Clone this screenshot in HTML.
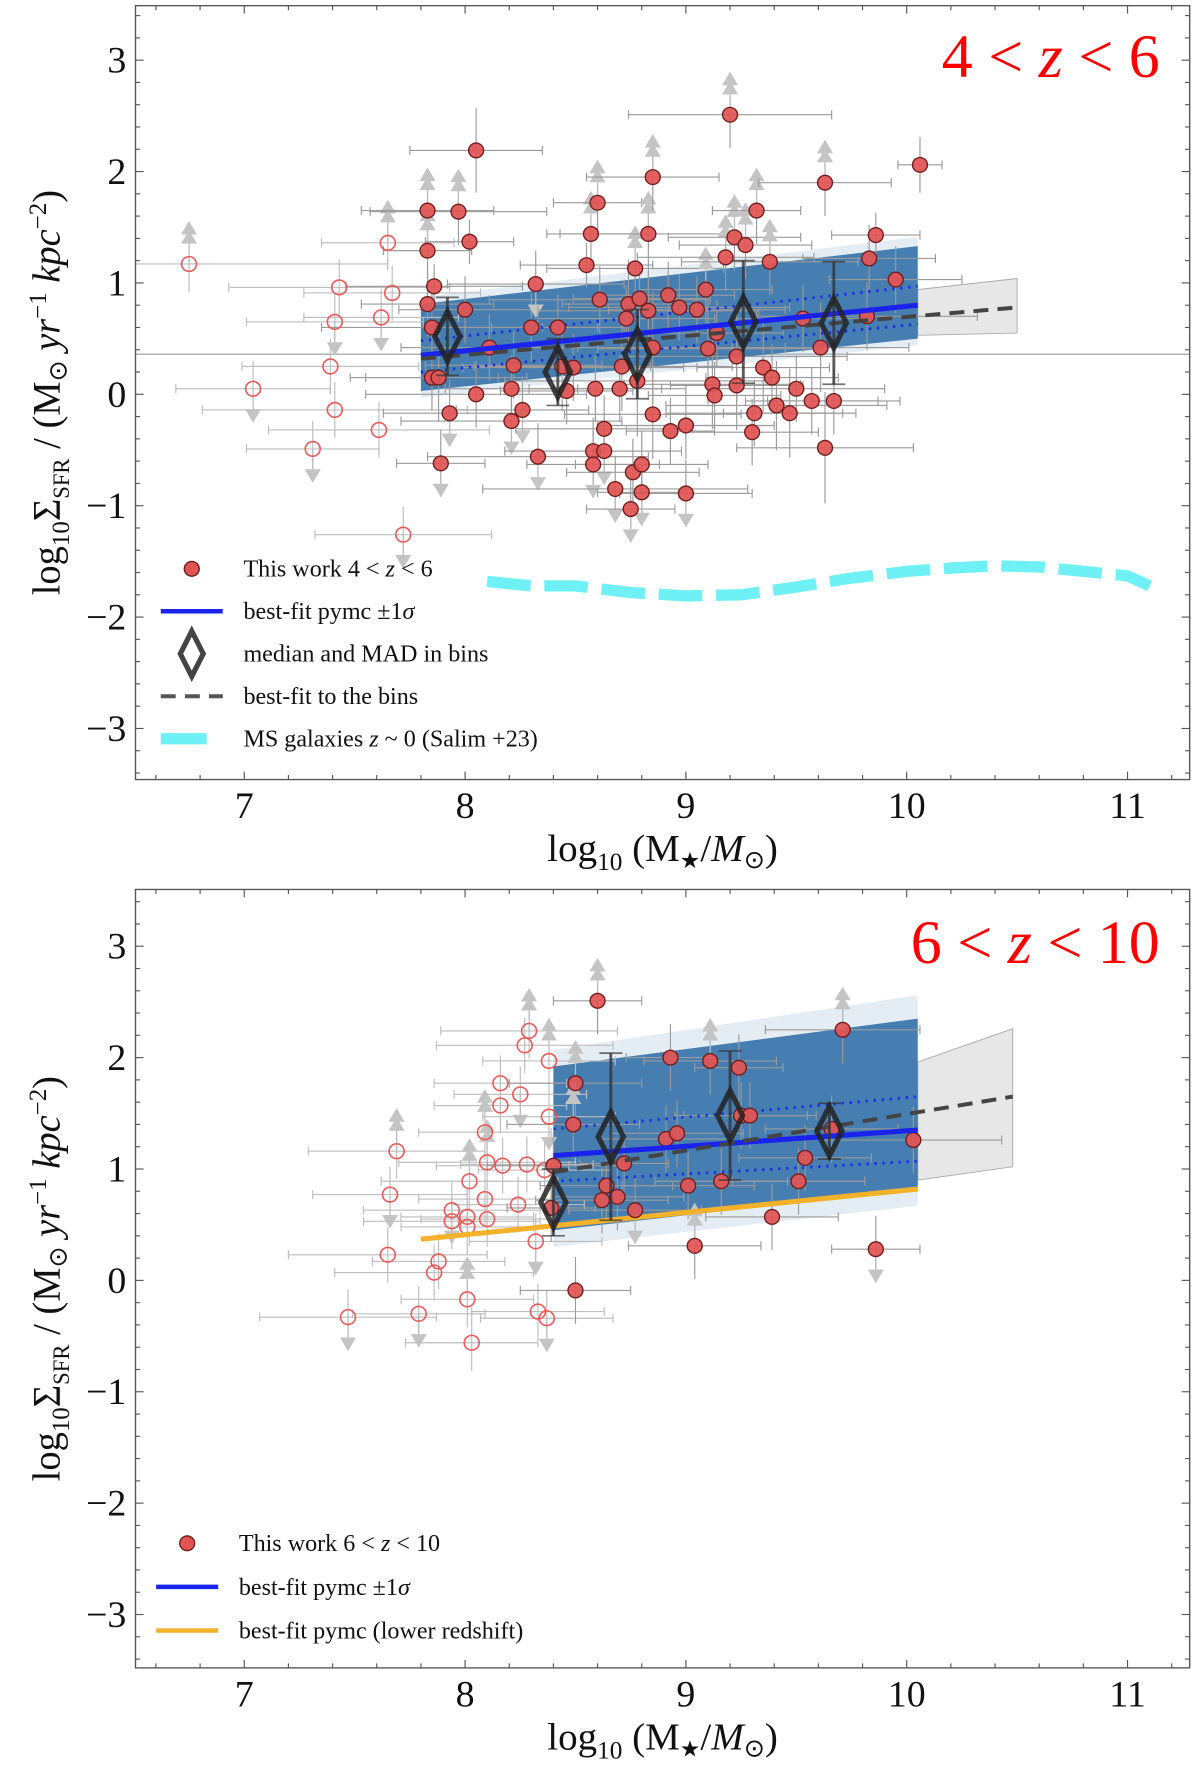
<!DOCTYPE html>
<html><head><meta charset="utf-8"><style>
html,body{margin:0;padding:0;background:#fff}
svg{display:block}
text{font-family:"Liberation Serif",serif}
</style></head><body>
<svg id="fig" width="1200" height="1771" viewBox="0 0 1045 1563" preserveAspectRatio="none" xmlns="http://www.w3.org/2000/svg">
<rect width="1045" height="1563" fill="#fff"/>
<g id="top"></g>
<g id="bot"></g>
</svg>
<script>
// ---- top panel data (4<z<6) ----
const topFilledX=[7.83,7.83,7.86,7.83,7.85,7.85,7.88,7.89,7.93,7.97,8.0,8.02,8.05,8.05,8.11,8.21,8.21,8.22,8.26,8.30,8.32,8.33,8.42,8.44,8.46,8.49,8.55,8.57,8.58,8.58,8.59,8.60,8.61,8.63,8.63,8.68,8.70,8.71,8.73,8.74,8.75,8.76,8.77,8.78,8.79,8.80,8.80,8.83,8.83,8.85,8.85,8.85,8.92,8.93,8.97,9.0,9.0,9.05,9.09,9.10,9.12,9.13,9.14,9.18,9.20,9.22,9.23,9.23,9.27,9.30,9.31,9.32,9.35,9.38,9.39,9.41,9.47,9.50,9.53,9.57,9.61,9.63,9.63,9.67,9.82,9.83,9.86,9.95,10.06];
const topFilledY=[1.65,1.29,0.97,0.81,0.60,0.15,0.15,-0.62,-0.17,1.64,0.76,1.37,0.0,2.19,0.42,0.05,-0.24,0.26,-0.14,0.60,0.99,-0.56,0.60,0.25,0.03,0.24,1.16,1.44,-0.51,-0.63,0.05,1.72,0.85,-0.31,-0.51,-0.85,0.05,0.25,0.68,0.81,-1.03,-0.70,1.13,0.12,0.86,-0.63,-0.88,1.44,0.75,1.95,0.42,-0.18,0.89,-0.33,0.78,-0.89,-0.28,0.76,0.94,0.41,0.09,-0.01,0.55,1.23,2.51,1.41,0.08,0.34,1.34,-0.34,-0.17,1.65,0.24,1.19,0.15,-0.10,-0.17,0.05,0.68,-0.06,0.42,1.90,-0.48,-0.06,0.70,1.22,1.43,1.03,2.06];
const topFilledXerr=[0.3,0.2,0.4,0.3,0.5,0.3,0.4,0.2,0.3,0.4,0.3,0.2,0.5,0.3,0.4,0.3,0.5,0.4,0.3,0.3,0.4,0.5,0.3,0.4,0.3,0.5,0.3,0.2,0.4,0.3,0.3,0.2,0.5,0.4,0.3,0.6,0.3,0.5,0.4,0.3,0.2,0.3,0.4,0.6,0.3,0.3,0.2,0.4,0.5,0.3,0.6,0.4,0.3,0.2,0.5,0.3,0.4,0.4,0.3,0.5,0.4,0.3,0.3,0.4,0.46,0.3,0.3,0.5,0.3,0.3,0.4,0.2,0.3,0.4,0.3,0.5,0.3,0.4,0.3,0.3,0.4,0.3,0.4,0.3,0.5,0.3,0.2,0.3,0.1];
const topFilledYerr=[0.3,0.3,0.2,0.3,0.3,0.3,0.4,0.3,0.3,0.3,0.3,0.2,0.3,0.38,0.3,0.3,0.2,0.3,0.3,0.3,0.3,0.3,0.3,0.4,0.3,0.3,0.2,0.3,0.3,0.3,0.3,0.3,0.3,0.3,0.3,0.3,0.3,0.4,0.3,0.4,0.3,0.3,0.3,0.5,0.3,0.3,0.3,0.3,0.4,0.3,0.5,0.4,0.3,0.3,0.3,0.3,0.3,0.3,0.3,0.5,0.4,0.3,0.3,0.3,0.3,0.3,0.4,0.4,0.3,0.3,0.3,0.3,0.4,0.3,0.3,0.4,0.4,0.3,0.3,0.3,0.4,0.3,0.5,0.3,0.3,0.3,0.2,0.3,0.25];
const topFilledLim=[1,1,0,0,0,0,0,-1,-1,1,0,0,0,0,0,0,-1,0,-1,0,-1,-1,0,-1,0,0,0,1,0,-1,0,1,0,0,-1,-1,0,0,0,0,-1,0,1,0,0,0,-1,1,0,1,0,0,0,0,0,-1,0,0,1,0,0,0,0,1,1,1,0,0,1,0,0,1,0,1,0,0,0,0,0,0,0,1,0,0,0,0,0,0,0];
const topOpenX=[6.75,7.04,7.31,7.39,7.41,7.41,7.43,7.61,7.62,7.65,7.67,7.72];
const topOpenY=[1.17,0.05,-0.49,0.25,-0.14,0.65,0.96,-0.32,0.69,1.36,0.91,-1.26];
const topOpenXerr=[0.9,0.35,0.3,0.4,0.6,0.4,0.5,0.5,0.35,0.3,0.4,0.4];
const topOpenLim=[1,-1,-1,0,0,-1,0,0,-1,1,0,-1];
const topBinX=[7.92,8.42,8.78,9.26,9.67];
const topBinY=[0.52,0.20,0.36,0.65,0.64];
const topBinErr=[0.35,0.3,0.4,0.55,0.55];
const topFitX=[7.8,10.05];
const topFitY=[0.35,0.80];
const topFitUp=[0.48,0.97];
const topFitLo=[0.20,0.63];
const topBandHi=[0.81,1.33];
const topBandLo=[0.03,0.50];
const topBinFitX=[7.8,10.5];
const topBinFitY=[0.32,0.78];
const topShadeX=[10.05,10.5];
const topShadeHi=[0.94,1.04];
const topShadeLo=[0.53,0.55];
const salimX=[8.1,8.3,8.5,8.75,9.0,9.25,9.5,9.75,10.0,10.2,10.4,10.6,10.8,11.0,11.1];
const salimY=[-1.68,-1.72,-1.72,-1.78,-1.81,-1.80,-1.73,-1.65,-1.59,-1.56,-1.54,-1.55,-1.59,-1.63,-1.72];
// ---- bottom panel data (6<z<10) ----
const botFilledX=[8.60,8.50,8.49,8.40,8.39,8.64,8.62,8.69,8.72,8.77,8.91,8.96,8.93,9.11,9.24,9.25,9.29,9.01,9.16,9.04,9.39,9.51,9.54,9.66,9.71,9.86,10.03,8.50];
const botFilledY=[2.51,1.77,1.40,1.03,0.65,0.85,0.72,0.75,1.05,0.63,1.27,1.32,2.0,1.97,1.91,1.48,1.48,0.85,0.89,0.31,0.57,0.89,1.10,1.36,2.25,0.28,1.26,-0.09];
const botFilledXerr=[0.2,0.3,0.3,0.3,0.2,0.3,0.3,0.3,0.2,0.3,0.3,0.3,0.2,0.3,0.2,0.3,0.3,0.3,0.3,0.3,0.3,0.3,0.3,0.3,0.35,0.2,0.4,0.25];
const botFilledLim=[1,1,1,0,0,0,0,0,0,-1,0,0,0,1,0,0,0,0,0,1,0,0,0,0,1,-1,0,0];
const botOpenX=[7.47,7.65,7.69,7.66,7.79,7.86,7.88,7.94,7.94,8.01,8.01,8.01,8.03,8.02,8.09,8.10,8.09,8.10,8.16,8.16,8.17,8.25,8.24,8.27,8.29,8.28,8.36,8.38,8.38,8.32,8.33,8.37];
const botOpenY=[-0.33,0.23,1.16,0.77,-0.30,0.07,0.17,0.63,0.53,0.57,0.48,-0.17,-0.56,0.89,0.73,0.55,1.33,1.06,1.57,1.77,1.03,1.67,0.68,2.11,2.24,1.04,0.99,1.97,1.47,0.35,-0.28,-0.34];
const botOpenXerr=[0.4,0.45,0.4,0.35,0.3,0.45,0.3,0.4,0.4,0.3,0.3,0.3,0.3,0.4,0.3,0.3,0.3,0.4,0.3,0.3,0.3,0.3,0.3,0.4,0.4,0.3,0.3,0.3,0.3,0.3,0.3,0.3];
const botOpenLim=[-1,0,1,-1,-1,0,0,-1,0,0,0,1,0,1,0,0,1,1,0,0,0,-1,0,0,1,0,0,1,-1,-1,0,-1];
const botBinX=[8.40,8.66,9.20,9.65];
const botBinY=[0.70,1.29,1.48,1.34];
const botBinErr=[0.3,0.75,0.58,0.25];
const botFitX=[8.4,10.05];
const botFitY=[1.12,1.35];
const botFitUp=[1.36,1.65];
const botFitLo=[0.89,1.07];
const botBandHi=[1.92,2.35];
const botBandLo=[0.45,0.82];
const botBinFitX=[8.4,10.48];
const botBinFitY=[0.97,1.65];
const botShadeX=[10.05,10.48];
const botShadeHi=[1.96,2.26];
const botShadeLo=[0.90,1.02];
const lowzFitX=[7.8,10.05];
const lowzFitY=[0.37,0.82];
const xTicks=[7,8,9,10,11];
const yTicks=[3,2,1,0,-1,-2,-3];

const NS="http://www.w3.org/2000/svg";
function mk(p,tag,attrs){const e=document.createElementNS(NS,tag);for(const k in attrs)e.setAttribute(k,attrs[k]);p.appendChild(e);return e;}
const X=v=>405+(v-8)*192.3;

function drawPanel(g,cfg){
  const Y=v=>cfg.y0-v*98.3;
  const L=118,R=1036,T=cfg.top,B=cfg.bottom;
  const cid='clip'+cfg.id;
  const defs=mk(g,'defs',{});
  const cp=mk(defs,'clipPath',{id:cid});mk(cp,'rect',{x:L,y:T,width:R-L,height:B-T});
  const pg=mk(g,'g',{'clip-path':'url(#'+cid+')'});
  if(cfg.hline!==undefined){const l=mk(pg,'line',{x1:L,x2:R,y1:Y(cfg.hline),y2:Y(cfg.hline),stroke:'#999','stroke-width':1});
    }
  const sh=mk(pg,'polygon',{points:`${X(cfg.shadeX[0])},${Y(cfg.shadeHi[0])} ${X(cfg.shadeX[1])},${Y(cfg.shadeHi[1])} ${X(cfg.shadeX[1])},${Y(cfg.shadeLo[1])} ${X(cfg.shadeX[0])},${Y(cfg.shadeLo[0])}`,fill:'#bbb','fill-opacity':0.35,stroke:'#aaa','stroke-width':0.8});
  
  const fx0=X(cfg.fitX[0]),fx1=X(cfg.fitX[1]);
  const fz=mk(pg,'polygon',{points:`${fx0},${Y(cfg.bandHi[0]+cfg.fuzz)} ${fx1},${Y(cfg.bandHi[1]+cfg.fuzz*1.4)} ${fx1},${Y(cfg.bandLo[1]-cfg.fuzz)} ${fx0},${Y(cfg.bandLo[0]-cfg.fuzz)}`,fill:'#a9c3da','fill-opacity':0.3});
  
  const bd=mk(pg,'polygon',{points:`${fx0},${Y(cfg.bandHi[0])} ${fx1},${Y(cfg.bandHi[1])} ${fx1},${Y(cfg.bandLo[1])} ${fx0},${Y(cfg.bandLo[0])}`,fill:'#3874aa','fill-opacity':0.92});
  
  const ebar=(x,y,xe,ye,lim,col)=>{
    mk(pg,'line',{x1:X(x-xe),x2:X(x+xe),y1:Y(y),y2:Y(y),stroke:col,'stroke-width':1});
    mk(pg,'line',{x1:X(x-xe),x2:X(x-xe),y1:Y(y)-4,y2:Y(y)+4,stroke:col,'stroke-width':1});
    mk(pg,'line',{x1:X(x+xe),x2:X(x+xe),y1:Y(y)-4,y2:Y(y)+4,stroke:col,'stroke-width':1});
    mk(pg,'line',{x1:X(x),x2:X(x),y1:Y(y+ye),y2:Y(y-ye),stroke:col,'stroke-width':1});
    if(lim){const ax=X(x),ay=Y(y)-lim*18;
      const tip=ay-lim*12;
      mk(pg,'line',{x1:ax,x2:ax,y1:Y(y),y2:ay,stroke:'#bbb','stroke-width':1});
      const a=mk(pg,'polygon',{points:`${ax-7},${ay} ${ax+7},${ay} ${ax},${tip}`,fill:'#c4c4c4'});
      
      if(lim>0){const a2=mk(pg,'polygon',{points:`${ax-7},${ay-8} ${ax+7},${ay-8} ${ax},${tip-8}`,fill:'#c4c4c4'});
        }
    }
  };
  cfg.openX.forEach((x,i)=>ebar(x,cfg.openY[i],cfg.openXerr[i],0.25,cfg.openLim[i],'#bdbdbd'));
  cfg.filledX.forEach((x,i)=>ebar(x,cfg.filledY[i],cfg.filledXerr[i],cfg.filledYerr?cfg.filledYerr[i]:0.3,cfg.filledLim[i],'#9a9a9a'));
  cfg.openX.forEach((x,i)=>{const c=mk(pg,'circle',{cx:X(x),cy:Y(cfg.openY[i]),r:6.5,fill:'none',stroke:'#e85a5a','stroke-width':1.4});
    });
  const line=(xs,ys,attrs,name)=>{const l=mk(pg,'line',Object.assign({x1:X(xs[0]),y1:Y(ys[0]),x2:X(xs[1]),y2:Y(ys[1])},attrs));
    };
  line(cfg.fitX,cfg.fitUp,{stroke:'#1a2cf0','stroke-width':2.5,'stroke-dasharray':'2 5'},'fit-upper-1sigma');
  line(cfg.fitX,cfg.fitLo,{stroke:'#1a2cf0','stroke-width':2.5,'stroke-dasharray':'2 5'},'fit-lower-1sigma');
  if(cfg.lowzX) line(cfg.lowzX,cfg.lowzY,{stroke:'#f4b12a','stroke-width':4.5},'lower-redshift-fit');
  cfg.filledX.forEach((x,i)=>{const c=mk(pg,'circle',{cx:X(x),cy:Y(cfg.filledY[i]),r:6.5,fill:'#e25454','fill-opacity':0.92,stroke:'#6e1c1c','stroke-width':1.2});
    });
  line(cfg.fitX,cfg.fitY,{stroke:'#1a22ee','stroke-width':4.5},'best-fit-line');
  line(cfg.binFitX,cfg.binFitY,{stroke:'#444','stroke-width':3.5,'stroke-dasharray':'13 8'},'bin-fit-line');
  cfg.binX.forEach((x,i)=>{const cx=X(x),cy=Y(cfg.binY[i]);
    mk(pg,'line',{x1:cx,x2:cx,y1:Y(cfg.binY[i]+cfg.binErr[i]),y2:Y(cfg.binY[i]-cfg.binErr[i]),stroke:'#333','stroke-width':2.5,'stroke-opacity':0.8});
    mk(pg,'line',{x1:cx-10,x2:cx+10,y1:Y(cfg.binY[i]+cfg.binErr[i]),y2:Y(cfg.binY[i]+cfg.binErr[i]),stroke:'#333','stroke-width':1.5,'stroke-opacity':0.7});
    mk(pg,'line',{x1:cx-10,x2:cx+10,y1:Y(cfg.binY[i]-cfg.binErr[i]),y2:Y(cfg.binY[i]-cfg.binErr[i]),stroke:'#333','stroke-width':1.5,'stroke-opacity':0.7});
    const d=mk(pg,'polygon',{points:`${cx},${cy-22} ${cx+11},${cy} ${cx},${cy+22} ${cx-11},${cy}`,fill:'none',stroke:'#222','stroke-width':4.5,'stroke-opacity':0.85});
    });
  if(cfg.salimX){const p=mk(pg,'polyline',{points:cfg.salimX.map((x,i)=>X(x)+','+Y(cfg.salimY[i])).join(' '),fill:'none',stroke:'#6ff0f5','stroke-width':10,'stroke-dasharray':'38 12'});
    }
  const fr=mk(g,'rect',{x:L,y:T,width:R-L,height:B-T,fill:'none',stroke:'#555','stroke-width':1.2});
  
  for(let v=6.6;v<11.3;v+=0.2){const x=X(v);const maj=Math.abs(v-Math.round(v))<0.01;const len=maj?7:4;
    mk(g,'line',{x1:x,x2:x,y1:B,y2:B-len,stroke:'#555','stroke-width':1});mk(g,'line',{x1:x,x2:x,y1:T,y2:T+len,stroke:'#555','stroke-width':1});}
  for(let v=-3.4;v<3.5;v+=0.2){const y=Y(v);if(y<T||y>B)continue;const maj=Math.abs(v-Math.round(v))<0.01;const len=maj?7:4;
    mk(g,'line',{x1:L,x2:L+len,y1:y,y2:y,stroke:'#555','stroke-width':1});mk(g,'line',{x1:R,x2:R-len,y1:y,y2:y,stroke:'#555','stroke-width':1});}
  xTicks.forEach(v=>{const t=mk(g,'text',{x:X(v),y:B+34,'font-size':33,'text-anchor':'middle',fill:'#111'});t.textContent=v;
    });
  yTicks.forEach(v=>{const t=mk(g,'text',{x:110,y:Y(v)+11,'font-size':33,'text-anchor':'end',fill:'#111'});t.textContent=v<0?'\u2212'+(-v):v;
    });
  const xt=mk(g,'text',{x:577,y:B+72,'font-size':34,'text-anchor':'middle',fill:'#111'});
  xt.innerHTML='log<tspan font-size="22" dy="8">10</tspan><tspan dy="-8"> (M</tspan><tspan font-size="20" dy="6">\u2605</tspan><tspan dy="-6">/</tspan><tspan font-style="italic">M</tspan><tspan font-size="22" dy="6">\u2299</tspan><tspan dy="-6">)</tspan>';
  
  const cy=(T+B)/2;
  const yt=mk(g,'text',{x:0,y:0,'font-size':34,'text-anchor':'middle',fill:'#111',transform:`translate(52,${cy}) rotate(-90)`});
  yt.innerHTML='log<tspan font-size="22" dy="8">10</tspan><tspan dy="-8">\u03A3</tspan><tspan font-size="20" dy="8">SFR</tspan><tspan dy="-8"> / (M</tspan><tspan font-size="22" dy="6">\u2299</tspan><tspan dy="-6"> </tspan><tspan font-style="italic">yr</tspan><tspan font-size="22" dy="-12">\u22121</tspan><tspan dy="12" font-style="italic"> kpc</tspan><tspan font-size="22" dy="-12">\u22122</tspan><tspan dy="12">)</tspan>';
  
  const rt=mk(g,'text',{x:1010,y:cfg.titleY,'font-size':54,'text-anchor':'end',fill:'#ff0000'});
  rt.innerHTML=cfg.title;
  
}

drawPanel(document.getElementById('top'),{id:'t',y0:348,top:5,bottom:688,hline:0.36,
  shadeX:topShadeX,shadeHi:topShadeHi,shadeLo:topShadeLo,fitX:topFitX,fitY:topFitY,fitUp:topFitUp,fitLo:topFitLo,
  bandHi:topBandHi,bandLo:topBandLo,fuzz:0.06,binFitX:topBinFitX,binFitY:topBinFitY,
  filledX:topFilledX,filledY:topFilledY,filledXerr:topFilledXerr,filledYerr:topFilledYerr,filledLim:topFilledLim,
  openX:topOpenX,openY:topOpenY,openXerr:topOpenXerr,openLim:topOpenLim,
  binX:topBinX,binY:topBinY,binErr:topBinErr,salimX:salimX,salimY:salimY,
  title:'4 &lt; <tspan font-style="italic">z</tspan> &lt; 6',titleY:68});
drawPanel(document.getElementById('bot'),{id:'b',y0:1130,top:785,bottom:1472,
  shadeX:botShadeX,shadeHi:botShadeHi,shadeLo:botShadeLo,fitX:botFitX,fitY:botFitY,fitUp:botFitUp,fitLo:botFitLo,
  bandHi:botBandHi,bandLo:botBandLo,fuzz:0.15,binFitX:botBinFitX,binFitY:botBinFitY,
  filledX:botFilledX,filledY:botFilledY,filledXerr:botFilledXerr,filledYerr:null,filledLim:botFilledLim,
  openX:botOpenX,openY:botOpenY,openXerr:botOpenXerr,openLim:botOpenLim,
  binX:botBinX,binY:botBinY,binErr:botBinErr,lowzX:lowzFitX,lowzY:lowzFitY,
  title:'6 &lt; <tspan font-style="italic">z</tspan> &lt; 10',titleY:850});

function legend(gid,items,x0,y0,dy){
  const g=document.getElementById(gid);
  const lg=mk(g,'g',{});
  items.forEach((it,i)=>{const y=y0+i*dy;
    const e=mk(lg,'g',{});
    if(it.k==='dot')mk(e,'circle',{cx:x0+27,cy:y,r:6.5,fill:'#e25454',stroke:'#6e1c1c','stroke-width':1.2});
    if(it.k==='blue')mk(e,'line',{x1:x0,x2:x0+54,y1:y,y2:y,stroke:'#1a22ee','stroke-width':4});
    if(it.k==='orange')mk(e,'line',{x1:x0,x2:x0+54,y1:y,y2:y,stroke:'#f4b12a','stroke-width':4});
    if(it.k==='diam')mk(e,'polygon',{points:`${x0+27},${y-20} ${x0+37},${y} ${x0+27},${y+20} ${x0+17},${y}`,fill:'none',stroke:'#444','stroke-width':4.5});
    if(it.k==='dash')mk(e,'line',{x1:x0,x2:x0+54,y1:y,y2:y,stroke:'#555','stroke-width':3.5,'stroke-dasharray':'13 8'});
    if(it.k==='cyan')mk(e,'line',{x1:x0,x2:x0+40,y1:y,y2:y,stroke:'#6ff0f5','stroke-width':10});
    const t=mk(e,'text',{x:x0+72,y:y+7,'font-size':21,fill:'#111'});t.innerHTML=it.t;});
}
legend('top',[{k:'dot',t:'This work 4 &lt; <tspan font-style="italic">z</tspan> &lt; 6'},{k:'blue',t:'best-fit pymc \u00B11<tspan font-style="italic">\u03C3</tspan>'},
  {k:'diam',t:'median and MAD in bins'},{k:'dash',t:'best-fit to the bins'},{k:'cyan',t:'MS galaxies <tspan font-style="italic">z</tspan> ~ 0 (Salim +23)'}],140,502,37.5);
legend('bot',[{k:'dot',t:'This work 6 &lt; <tspan font-style="italic">z</tspan> &lt; 10'},{k:'blue',t:'best-fit pymc \u00B11<tspan font-style="italic">\u03C3</tspan>'},
  {k:'orange',t:'best-fit pymc (lower redshift)'}],136,1362,38.5);
</script>
</body></html>
